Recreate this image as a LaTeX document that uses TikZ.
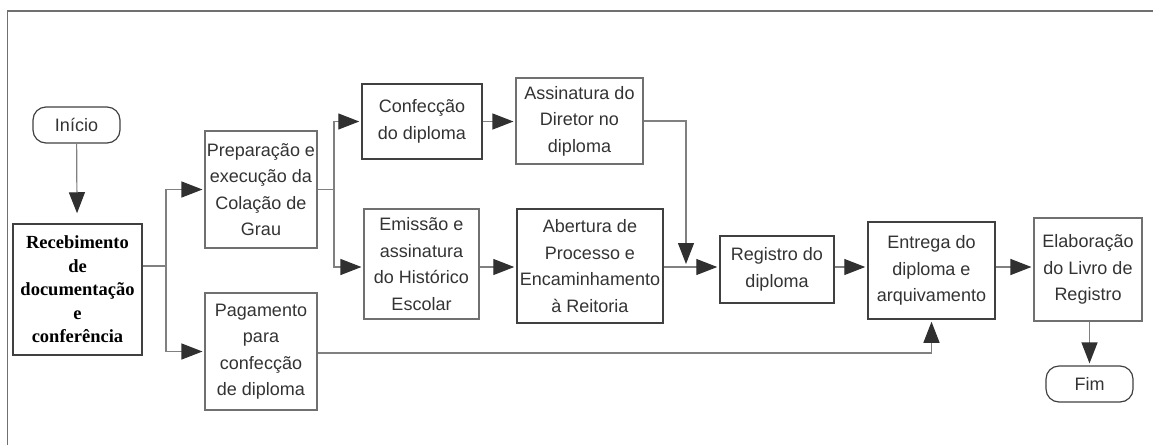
\documentclass[tikz,border=0pt]{standalone}
\usepackage{fontspec}
\setmainfont{Liberation Sans}
\newfontfamily\serifbold{Liberation Serif}[BoldFont={Liberation Serif Bold}]
\usetikzlibrary{arrows.meta}
\definecolor{boxc}{HTML}{404040}
\definecolor{boxl}{HTML}{707070}
\definecolor{linec}{HTML}{808080}
\definecolor{tipc}{HTML}{303030}
\definecolor{txtc}{HTML}{333333}
\tikzset{
  box/.style={draw=boxl, line width=1.1pt, inner sep=0pt, align=center, text=txtc,
    font=\fontsize{18}{26.5}\selectfont},
  boxd/.style={box, draw=boxc, line width=1.5pt},
  term/.style={box, draw=boxc, line width=1.2pt, rounded corners=13pt,
    minimum width=87pt, minimum height=36pt},
  conn/.style={draw=linec, line width=1.2pt},
  arr/.style={conn, -{Triangle[length=21pt,width=16pt,color=tipc]}, shorten >=2pt},
}
\begin{document}
\begin{tikzpicture}[x=1pt,y=-1pt]
\path[use as bounding box] (0,0) rectangle (1153,445);
% frame
\draw[draw=boxl, line width=2pt] (7,11) -- (1153,11);
\draw[draw=boxl, line width=1pt] (7,11) -- (7,445);

\coordinate (row) at (0,267);

\node[term] (inicio) at (76.5,125) {Início};
\node[boxd, minimum width=129pt, minimum height=131pt,
      font=\serifbold\bfseries\fontsize{18.5}{23.5}\selectfont, text=black]
      (receb) at (77.5,289.5) {Recebimento\\de\\documentação\\e\\conferência};
\node[box, minimum width=112pt, minimum height=117pt] (prep) at (261,189.5)
  {Preparação e\\execução da\\Colação de\\Grau};
\node[box, minimum width=112pt, minimum height=117pt] (pag) at (261,351.5)
  {Pagamento\\para\\confecção\\de diploma};
\node[boxd, minimum width=120pt, minimum height=75pt] (conf) at (422,121.5)
  {Confecção\\do diploma};
\node[box, minimum width=127pt, minimum height=86pt] (assin) at (579.5,121)
  {Assinatura do\\Diretor no\\diploma};
\node[box, minimum width=115pt, minimum height=110pt] (emis) at (421.5,264)
  {Emissão e\\assinatura\\do Histórico\\Escolar};
\node[boxd, minimum width=146pt, minimum height=114pt] (abert) at (590,266)
  {Abertura de\\Processo e\\Encaminhamento\\à Reitoria};
\node[boxd, minimum width=114pt, minimum height=67pt] (reg) at (777,269.5)
  {Registro do\\diploma};
\node[boxd, minimum width=127pt, minimum height=97pt] (entr) at (931.5,270.5)
  {Entrega do\\diploma e\\arquivamento};
\node[box, minimum width=108pt, minimum height=103pt] (elab) at (1088,269.5)
  {Elaboração\\do Livro de\\Registro};
\node[term] (fim) at (1089.5,384) {Fim};

% connectors
\draw[arr, shorten >=10pt] (inicio) -- (receb);
\coordinate (j1) at (166,266);
\draw[conn] (receb.east |- j1) -- (j1);
\draw[arr] (j1) |- (prep.west);
\draw[arr] (j1) |- (pag.west);
\coordinate (j2) at (334,189.5);
\draw[conn] (prep.east) -- (j2);
\draw[arr] (j2) |- (conf.west);
\draw[arr] (j2) |- (emis.west |- row);
\draw[arr] (conf.east) -- (conf.east -| assin.west);
\draw[arr] (emis.east |- row) -- (abert.west |- row);
\coordinate (m) at (686,267);
\draw[conn] (abert.east |- row) -- (m);
\draw[arr, shorten >=3pt] (assin.east) -| (m);
\draw[arr] (m) -- (reg.west |- row);
\draw[arr] (reg.east |- row) -- (entr.west |- row);
\draw[arr] (entr.east |- row) -- (elab.west |- row);
\draw[arr] (pag.east |- 0,353) -| (entr.south);
\draw[arr] (fim.north |- elab.south) -- (fim.north);
\end{tikzpicture}
\end{document}
